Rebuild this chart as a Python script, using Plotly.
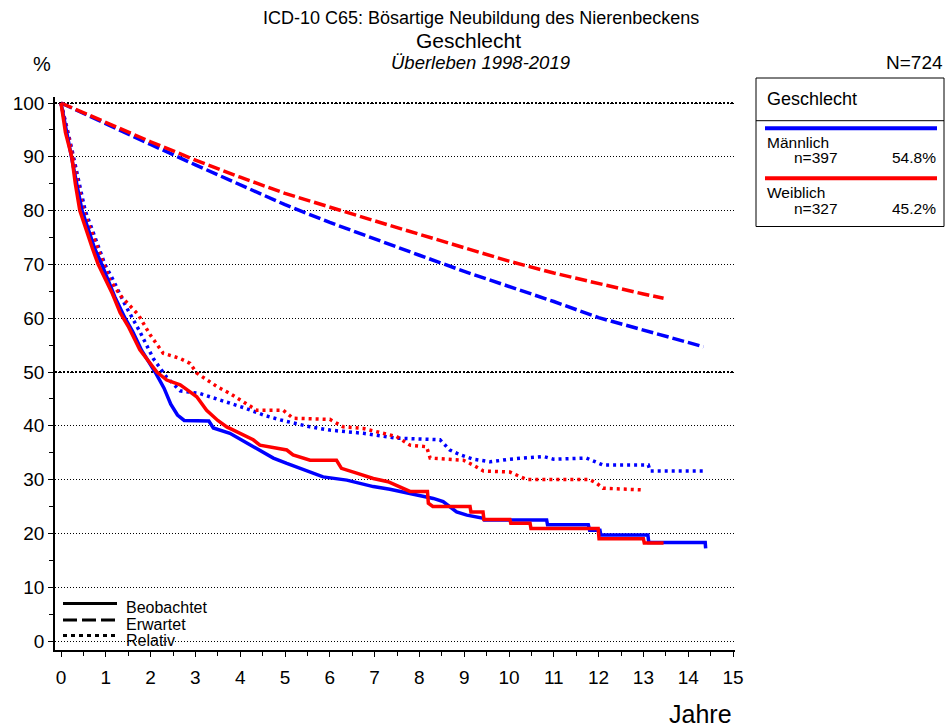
import plotly.graph_objects as go

# ---------------- data ----------------
years_exp_m = [0, 1, 2, 3, 4, 5, 6, 7, 8, 9, 10, 11, 12, 13, 14, 14.34]
exp_m = [100, 96.1, 92.3, 88.5, 84.8, 81.1, 77.8, 74.7, 71.7, 68.7, 65.9, 63.1, 60.1, 57.8, 55.5, 54.7]
years_exp_w = [0, 1, 2, 3, 4, 5, 6, 7, 8, 9, 10, 11, 12, 13, 13.45]
exp_w = [100, 96.4, 92.8, 89.4, 86.2, 83.2, 80.6, 78.1, 75.6, 73.1, 70.6, 68.4, 66.4, 64.5, 63.7]

t_obs_m = [0, 0.1, 0.24, 0.35, 0.47, 0.6, 0.75, 0.91, 1.0, 1.2, 1.43, 1.6, 1.8, 2.1, 2.3, 2.45, 2.6, 2.75,
           3.3, 3.4, 3.77, 4.1, 4.37, 4.74, 5.04, 5.41, 5.85, 6.38, 6.52, 6.97, 7.34, 7.57, 8.01, 8.31,
           8.53, 8.68, 8.83, 9.06, 9.43, 9.45, 10.84, 10.86, 11.77, 11.8, 12.03, 12.05, 13.1, 13.12,
           14.38, 14.39]
obs_m = [100, 95.5, 90, 85, 80, 76.5, 73, 70, 68, 64, 60, 57.5, 54, 50, 47, 44, 42, 41,
         40.9, 39.6, 38.6, 37, 35.8, 34.0, 33.0, 31.8, 30.5, 29.9, 29.6, 28.7, 28.2, 27.8, 27.1, 26.5,
         25.9, 25.0, 24.0, 23.4, 22.8, 22.5, 22.5, 21.6, 21.6, 20.6, 20.6, 19.7, 19.7, 18.3,
         18.3, 17.2]

t_obs_w = [0, 0.1, 0.24, 0.32, 0.42, 0.55, 0.7, 0.83, 1.0, 1.15, 1.32, 1.5, 1.76, 2.0, 2.14, 2.36, 2.5,
           2.66, 2.85, 3.03, 3.25, 3.5, 3.7, 4.0, 4.29, 4.44, 4.89, 5.04, 5.18, 5.56, 6.15, 6.26, 6.6,
           6.97, 7.3, 7.57, 7.79, 8.18, 8.2, 8.3, 9.13, 9.15, 9.42, 9.44, 10.02, 10.04, 10.47, 10.49,
           11.99, 12.01, 13.0, 13.02, 13.45]
obs_w = [100, 94.5, 90, 85, 80, 76.5, 73, 70, 67, 64.5, 61, 58.5, 54.1, 51.5, 50, 48.5, 48,
         47.6, 46.5, 45.4, 42.9, 41, 39.8, 38.5, 37.4, 36.4, 35.8, 35.5, 34.6, 33.6, 33.6, 32.1, 31.2,
         30.2, 29.6, 28.7, 27.8, 27.8, 25.6, 25.0, 25.0, 24.0, 24.0, 22.6, 22.6, 21.9, 21.9, 20.9,
         20.9, 19.0, 19.0, 18.2, 18.2]

t_rel_m = [0, 0.2, 0.54, 0.98, 1.17, 1.43, 1.76, 2.06, 2.36, 2.66, 3.1, 3.55, 3.85, 4.14, 4.52, 4.89,
           5.56, 6.0, 6.75, 7.19, 7.49, 8.46, 8.68, 8.91, 9.2, 9.58, 10.02, 10.77, 10.99, 11.73, 12.1,
           13.11, 13.15, 14.38]
rel_m = [100, 93, 80, 70, 67, 62.5, 57.5, 52.5, 49, 46.5, 46, 44.8, 44, 43.2, 42, 41.1,
         39.8, 39.2, 38.6, 38.0, 37.7, 37.4, 35.5, 34.6, 33.8, 33.3, 33.8, 34.3, 33.8, 34.0, 32.7,
         32.7, 31.6, 31.6]

t_rel_w = [0, 0.2, 0.5, 0.95, 1.09, 1.35, 1.73, 1.99, 2.28, 2.66, 2.88, 3.03, 3.48, 3.77, 4.07, 4.37,
           4.96, 5.18, 6.0, 6.3, 6.75, 7.49, 7.79, 8.16, 8.24, 8.98, 9.2, 9.43, 10.02, 10.25, 10.4,
           11.8, 11.96, 12.1, 12.94]
rel_w = [100, 92.5, 80, 70, 67.1, 64, 60.6, 56.9, 53.5, 52.5, 51.6, 49.8, 47.3, 46, 44.5, 42.9,
         42.9, 41.4, 41.2, 39.8, 39.5, 38.0, 36.4, 36.1, 34.0, 33.6, 32.7, 31.6, 31.4, 30.5, 30.0,
         30.0, 29.3, 28.4, 28.1]

x_ticks = list(range(0, 16))
y_ticks = list(range(0, 101, 10))

BLUE = "#0000FF"
RED = "#FF0000"
FONT = "Liberation Sans, Arial, sans-serif"

# ---------------- figure ----------------
L, R, T, B = 55, 735, 97, 650
W, H = 948, 728


def px(x):
    return (x - L) / (R - L)


def py(y):
    return (B - y) / (B - T)


fig = go.Figure()

DASH = "12px,4px"
DOT = "3px,4px"

fig.add_trace(go.Scatter(x=years_exp_m, y=exp_m, mode="lines",
                         line=dict(color=BLUE, width=3.5, dash=DASH), hoverinfo="skip"))
fig.add_trace(go.Scatter(x=years_exp_w, y=exp_w, mode="lines",
                         line=dict(color=RED, width=3.5, dash=DASH), hoverinfo="skip"))
fig.add_trace(go.Scatter(x=t_rel_m, y=rel_m, mode="lines",
                         line=dict(color=BLUE, width=3.5, dash=DOT), hoverinfo="skip"))
fig.add_trace(go.Scatter(x=t_rel_w, y=rel_w, mode="lines",
                         line=dict(color=RED, width=3.5, dash=DOT), hoverinfo="skip"))
fig.add_trace(go.Scatter(x=t_obs_m, y=obs_m, mode="lines",
                         line=dict(color=BLUE, width=3.5), hoverinfo="skip"))
fig.add_trace(go.Scatter(x=t_obs_w, y=obs_w, mode="lines",
                         line=dict(color=RED, width=3.5), hoverinfo="skip"))

shapes = []
# bold gridlines at 50 and 100
for yv in (50, 100):
    shapes.append(dict(type="line", xref="paper", yref="y", x0=0, x1=1, y0=yv, y1=yv,
                       line=dict(color="black", width=2, dash="2px,2px"), layer="below"))

# legend box (right)
shapes.append(dict(type="rect", xref="paper", yref="paper", x0=px(756), x1=px(944),
                   y0=py(226.5), y1=py(78), line=dict(color="black", width=1)))
shapes.append(dict(type="line", xref="paper", yref="paper", x0=px(756), x1=px(944),
                   y0=py(120.7), y1=py(120.7), line=dict(color="black", width=1)))
shapes.append(dict(type="line", xref="paper", yref="paper", x0=px(765), x1=px(937),
                   y0=py(128.3), y1=py(128.3), line=dict(color=BLUE, width=4)))
shapes.append(dict(type="line", xref="paper", yref="paper", x0=px(765), x1=px(937),
                   y0=py(178.3), y1=py(178.3), line=dict(color=RED, width=4)))

# line-style legend (bottom left)
for yy, d in ((603.5, "solid"), (620, "14px,5px"), (635.5, "4px,4px")):
    shapes.append(dict(type="line", xref="paper", yref="paper", x0=px(63), x1=px(117),
                       y0=py(yy), y1=py(yy), line=dict(color="black", width=3, dash=d)))

ann = []


def text(x, y, s, size, xanchor="center", italic=False):
    if italic:
        s = "<i>" + s + "</i>"
    ann.append(dict(x=px(x), y=py(y), xref="paper", yref="paper", text=s, showarrow=False,
                    xanchor=xanchor, yanchor="middle", font=dict(family=FONT, size=size, color="black")))


text(481, 18, "ICD-10 C65: Bösartige Neubildung des Nierenbeckens", 18)
text(469, 40, "Geschlecht", 21)
text(480, 62, "Überleben 1998-2019", 18.5, italic=True)
text(42, 64, "%", 20)
text(945, 62, "N=724", 19, xanchor="right")
text(734, 714, "Jahre", 25, xanchor="right")

text(765, 99, "Geschlecht", 18, xanchor="left")
text(765, 142, "Männlich", 15.5, xanchor="left")
text(792, 157.5, "n=397", 15.5, xanchor="left")
text(938, 157.5, "54.8%", 15.5, xanchor="right")
text(765, 192.5, "Weiblich", 15.5, xanchor="left")
text(792, 208, "n=327", 15.5, xanchor="left")
text(938, 208, "45.2%", 15.5, xanchor="right")

text(124, 607, "Beobachtet", 16, xanchor="left")
text(124, 624, "Erwartet", 16, xanchor="left")
text(124, 640, "Relativ", 16, xanchor="left")

x0v = -6 / 44.8
fig.update_layout(
    width=W, height=H,
    margin=dict(l=L, r=W - R, t=T, b=H - B, pad=0),
    paper_bgcolor="white", plot_bgcolor="white",
    showlegend=False,
    shapes=shapes,
    annotations=ann,
    font=dict(family=FONT, color="black"),
    xaxis=dict(range=[x0v, x0v + (R - L) / 44.8], tickvals=x_ticks, ticktext=[str(v) for v in x_ticks],
               showgrid=False, zeroline=False, showline=True, linecolor="black", linewidth=1.5,
               ticks="outside", ticklen=5, tickwidth=1, tickcolor="black",
               minor=dict(dtick=0.5, tick0=0, ticks="outside", ticklen=4, tickcolor="black"),
               tickfont=dict(family=FONT, size=19), ticklabelstandoff=4),
    yaxis=dict(range=[(641 - B) / 5.38, (641 - T) / 5.38], tickvals=y_ticks,
               ticktext=[str(v) for v in y_ticks],
               showgrid=True, gridcolor="black", gridwidth=1, griddash="1px,2px",
               zeroline=False, showline=True, linecolor="black", linewidth=1.5,
               ticks="outside", ticklen=5, tickwidth=1, tickcolor="black",
               minor=dict(dtick=5, tick0=0, ticks="outside", ticklen=4, tickcolor="black", showgrid=False),
               tickfont=dict(family=FONT, size=19), ticklabelstandoff=0),
)

fig.write_html("out.html", config={"displayModeBar": False},
               post_script="document.body.style.margin='0px';document.body.style.overflow='hidden';")
